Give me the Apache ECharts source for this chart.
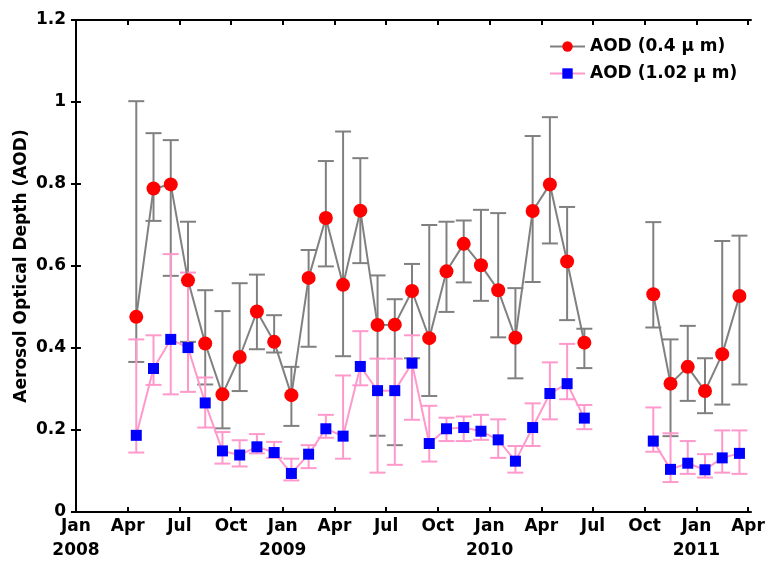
<!DOCTYPE html>
<html>
<head>
<meta charset="utf-8">
<script src="https://cdn.jsdelivr.net/npm/echarts@6/dist/echarts.min.js"></script>
<style>
  html, body { margin: 0; padding: 0; background: #fff; }
  #chart { width: 769px; height: 565px; }
</style>
</head>
<body>
<div id="chart"></div>
<script>
// months counted from Jan 2008 (0 = Jan 2008), points sit mid-month
const monthIdx = [3, 4, 5, 6, 7, 8, 9, 10, 11, 12, 13, 14, 15, 16, 17, 18, 19, 20, 21, 22, 23, 24, 25, 26, 27, 28, 29, 30, 31, 32, 33, 34, 35, 36, 37, 38]

const aod04 = [0.476, 0.789, 0.799, 0.565, 0.411, 0.287, 0.378, 0.489, 0.415, 0.285, 0.571, 0.717, 0.554, 0.735, 0.456, 0.457, 0.539, 0.424, 0.587, 0.654, 0.602, 0.541, 0.425, 0.734, 0.799, 0.611, 0.413, null, null, null, 0.531, 0.313, 0.354, 0.295, 0.385, 0.527]
const aod04Low = [0.366, 0.710, 0.576, 0.415, 0.311, 0.204, 0.295, 0.397, 0.389, 0.210, 0.403, 0.599, 0.380, 0.607, 0.186, 0.163, 0.375, 0.283, 0.488, 0.560, 0.515, 0.426, 0.326, 0.561, 0.655, 0.468, 0.351, null, null, null, 0.450, 0.185, 0.271, 0.241, 0.262, 0.311]
const aod04High = [1.002, 0.924, 0.907, 0.708, 0.541, 0.490, 0.558, 0.579, 0.480, 0.354, 0.639, 0.856, 0.928, 0.863, 0.577, 0.519, 0.605, 0.700, 0.708, 0.711, 0.737, 0.729, 0.546, 0.917, 0.963, 0.744, 0.447, null, null, null, 0.707, 0.421, 0.454, 0.375, 0.661, 0.674]

const aod102 = [0.187, 0.350, 0.421, 0.401, 0.266, 0.149, 0.139, 0.159, 0.145, 0.094, 0.141, 0.203, 0.185, 0.355, 0.296, 0.296, 0.363, 0.167, 0.203, 0.206, 0.197, 0.176, 0.124, 0.206, 0.289, 0.313, 0.229, null, null, null, 0.173, 0.104, 0.119, 0.103, 0.132, 0.143]
const aod102Low = [0.145, 0.310, 0.287, 0.293, 0.206, 0.118, 0.111, 0.143, 0.132, 0.077, 0.107, 0.181, 0.130, 0.309, 0.096, 0.115, 0.225, 0.123, 0.173, 0.173, 0.176, 0.132, 0.096, 0.161, 0.226, 0.275, 0.202, null, null, null, 0.147, 0.073, 0.093, 0.084, 0.096, 0.093]
const aod102High = [0.421, 0.431, 0.629, 0.584, 0.328, 0.195, 0.175, 0.190, 0.171, 0.130, 0.163, 0.237, 0.333, 0.441, 0.374, 0.374, 0.431, 0.259, 0.230, 0.233, 0.237, 0.226, 0.161, 0.265, 0.365, 0.410, 0.261, null, null, null, 0.255, 0.192, 0.173, 0.141, 0.199, 0.199]

const tickMonths = [0, 3, 6, 9, 12, 15, 18, 21, 24, 27, 30, 33, 36, 39]
const monthNames = ['Jan', 'Apr', 'Jul', 'Oct']
const yearLabels = ['2008', '2009', '2010', '2011']

const font = 'DejaVu Sans'
const gray = '#808080'
const pink = '#ff99cc'

const linePoints = (vals) => monthIdx.map((m, i) => [m + 0.5, vals[i]])
const barPoints = (lo, hi) => monthIdx
  .map((m, i) => [m + 0.5, lo[i], hi[i]])
  .filter(d => d[1] != null)

const errorBar = (color) => (params, api) => {
  const x = api.value(0)
  const lo = api.coord([x, api.value(1)])
  const hi = api.coord([x, api.value(2)])
  const hw = 8
  const style = { stroke: color, lineWidth: 2 }
  return {
    type: 'group',
    children: [
      { type: 'line', shape: { x1: lo[0], y1: lo[1], x2: hi[0], y2: hi[1] }, style },
      { type: 'line', shape: { x1: lo[0] - hw, y1: lo[1], x2: lo[0] + hw, y2: lo[1] }, style },
      { type: 'line', shape: { x1: hi[0] - hw, y1: hi[1], x2: hi[0] + hw, y2: hi[1] }, style }
    ]
  }
}

const chart = echarts.init(document.getElementById('chart'))

const xBase = {
  type: 'value',
  min: -0.23,
  max: 39.17,
  splitLine: { show: false },
  axisLine: { onZero: false, lineStyle: { color: '#000', width: 2 } },
  axisTick: { inside: true, length: 5, customValues: tickMonths, lineStyle: { color: '#000', width: 2 } }
}
const yBase = {
  type: 'value',
  min: 0,
  max: 1.2,
  interval: 0.2,
  splitLine: { show: false },
  axisLine: { show: true, lineStyle: { color: '#000', width: 2 } },
  axisTick: { show: true, inside: true, length: 5, lineStyle: { color: '#000', width: 2 } }
}

chart.setOption({
  animation: false,
  backgroundColor: '#fff',
  textStyle: { fontFamily: font },
  grid: { left: 72, right: 18, top: 20, bottom: 53, outerBoundsMode: 'none' },
  legend: {
    orient: 'vertical',
    left: 544,
    top: 33,
    itemWidth: 35,
    itemHeight: 13,
    itemGap: 10,
    data: ['AOD (0.4 μ m)', 'AOD (1.02 μ m)'],
    textStyle: { fontFamily: font, fontWeight: 'bold', fontSize: 17, color: '#000' }
  },
  xAxis: [
    {
      ...xBase,
      position: 'bottom',
      axisLabel: {
        customValues: tickMonths,
        margin: 3,
        fontFamily: font,
        fontWeight: 'bold',
        fontSize: 17,
        color: '#000',
        lineHeight: 24,
        formatter: (v) => {
          const m = Math.round(v)
          const name = monthNames[(m % 12) / 3]
          return m % 12 === 0 ? name + '\n' + yearLabels[m / 12] : name
        }
      }
    },
    { ...xBase, position: 'top', axisLabel: { show: false } }
  ],
  yAxis: [
    {
      ...yBase,
      position: 'left',
      name: 'Aerosol Optical Depth (AOD)',
      nameLocation: 'middle',
      nameGap: 42,
      nameMoveOverlap: false,
      nameTextStyle: { fontFamily: font, fontWeight: 'bold', fontSize: 17, color: '#000' },
      axisLabel: { margin: 6, fontFamily: font, fontWeight: 'bold', fontSize: 17, color: '#000' }
    },
    { ...yBase, position: 'right', axisLabel: { show: false } }
  ],
  series: [
    {
      name: 'err04',
      type: 'custom',
      renderItem: errorBar(gray),
      data: barPoints(aod04Low, aod04High),
      encode: { x: 0, y: [1, 2] }
    },
    {
      name: 'AOD (0.4 μ m)',
      type: 'line',
      data: linePoints(aod04),
      connectNulls: false,
      symbol: 'circle',
      symbolSize: 14,
      itemStyle: { color: '#ff0000' },
      lineStyle: { color: gray, width: 2 }
    },
    {
      name: 'err102',
      type: 'custom',
      renderItem: errorBar(pink),
      data: barPoints(aod102Low, aod102High),
      encode: { x: 0, y: [1, 2] }
    },
    {
      name: 'AOD (1.02 μ m)',
      type: 'line',
      data: linePoints(aod102),
      connectNulls: false,
      symbol: 'rect',
      symbolSize: 11,
      itemStyle: { color: '#0000ff' },
      lineStyle: { color: pink, width: 2 }
    }
  ]
})
</script>
</body>
</html>
